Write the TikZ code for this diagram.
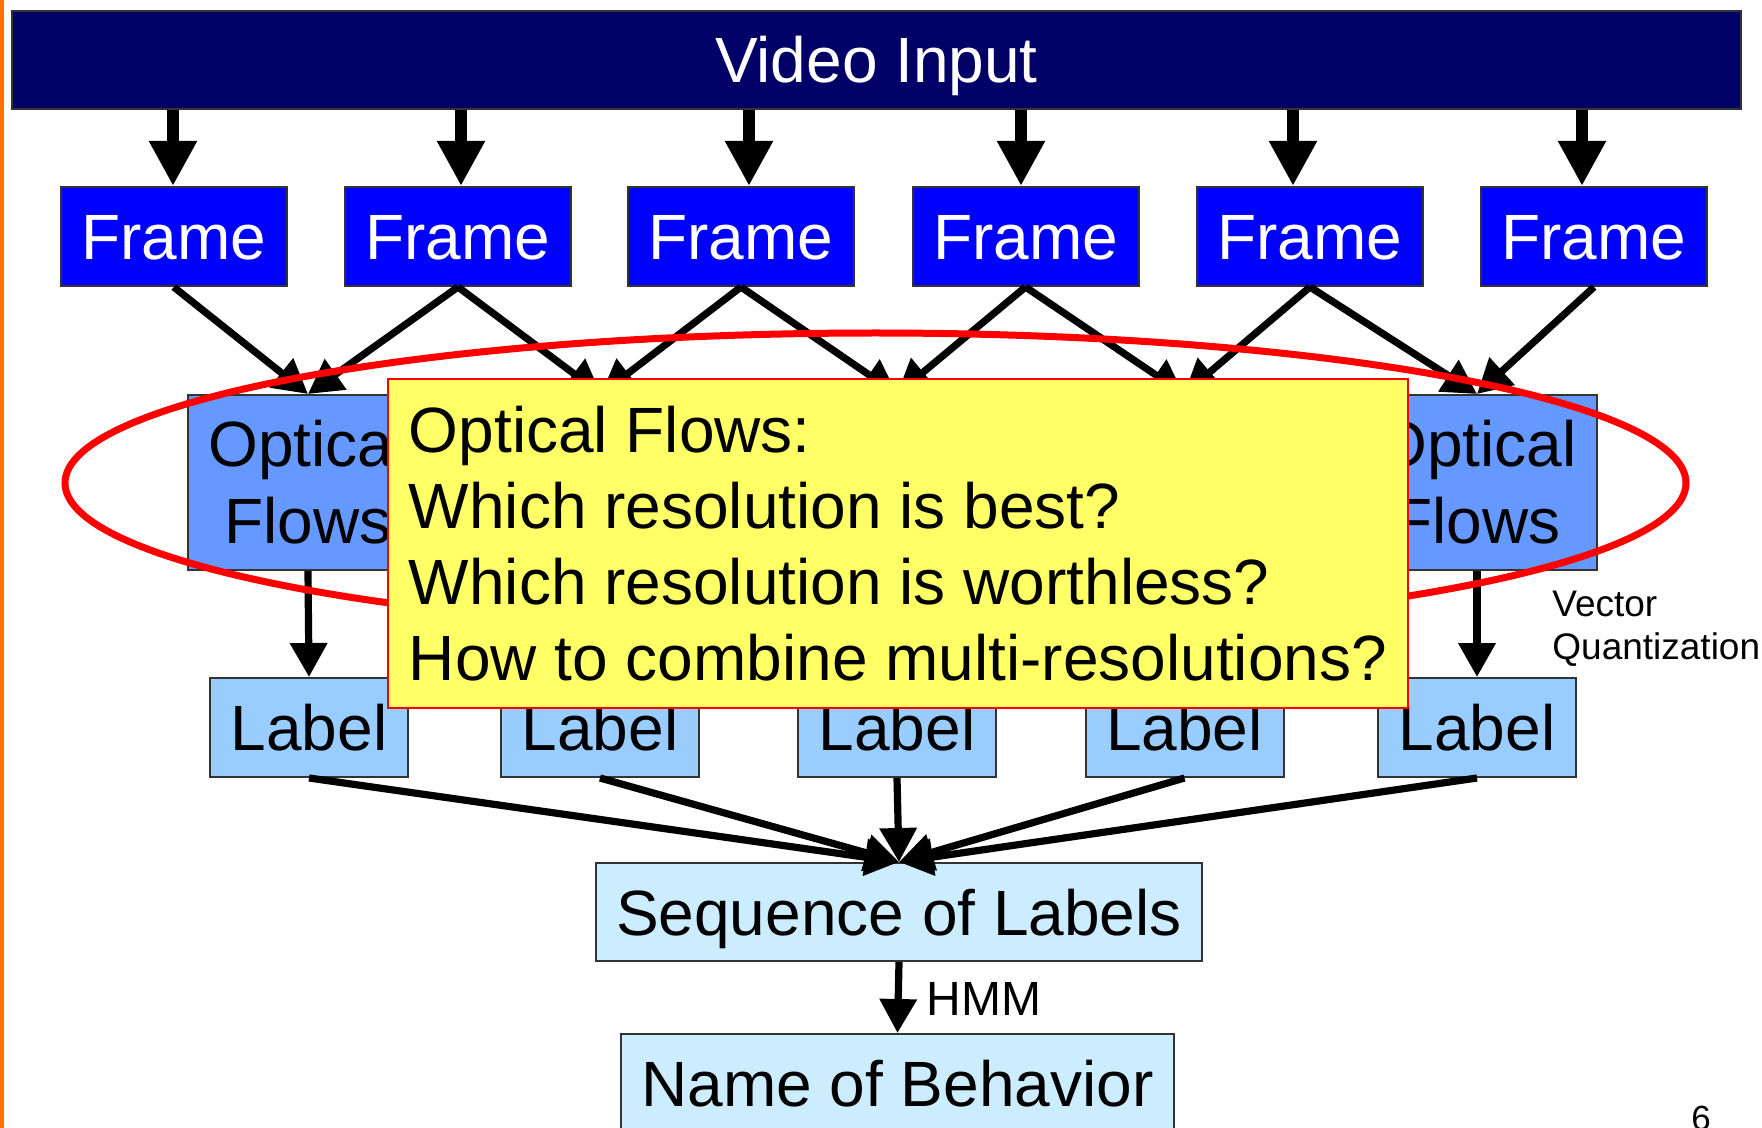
\documentclass[tikz,border=0pt]{standalone}
\usepackage{fontspec}
\setmainfont{Liberation Sans}
\usetikzlibrary{arrows.meta,calc}
\definecolor{navybar}{RGB}{0,0,102}
\definecolor{framebl}{RGB}{0,0,255}
\definecolor{optbl}{RGB}{102,153,255}
\definecolor{labbl}{RGB}{153,204,255}
\definecolor{seqbl}{RGB}{204,236,255}
\definecolor{noteyel}{RGB}{255,255,102}
\definecolor{edgeor}{RGB}{255,112,0}
\begin{document}
\begin{tikzpicture}[x=0.5pt,y=-0.5pt,
  box/.style={draw=black!80, line width=1pt, inner sep=0pt, text height=23pt, text depth=0pt,
    font=\fontsize{32}{38}\selectfont},
  framebox/.style={box, fill=framebl, text=white, minimum width=113pt, minimum height=49.5pt},
  optbox/.style={draw=black!80, line width=1pt, fill=optbl, inner sep=0pt, minimum width=120pt,
    minimum height=87.5pt, align=center, font=\fontsize{32}{38.5}\selectfont},
  labbox/.style={box, fill=labbl, minimum width=99pt, minimum height=49.5pt},
  bigarr/.style={line width=6pt, -{Triangle[length=22.5pt,width=22.5pt]}},
  arr/.style={line width=3.6pt, -{Triangle[length=17pt,width=18pt]}},
  smalltext/.style={inner sep=0pt, text=black}
]
\useasboundingbox (0,0) rectangle (1762,1128);
\fill[white] (0,0) rectangle (1762,1128);
\fill[edgeor] (0,0) rectangle (3.5,1128);

% Video input bar
\node[box, fill=navybar, text=white, minimum width=864.5pt, minimum height=49pt] (video) at (876.5,60) {Video Input};

% Frames
\foreach \i/\x in {1/173.7,2/458,3/741,4/1025.5,5/1310,6/1594}
  \node[framebox] (f\i) at (\x,236.5) {Frame};

% arrows video -> frames
\foreach \i/\s in {1/-0.35,2/1.5,3/4,4/-2.25,5/-8.5,6/-6} {
  \coordinate (in\i) at ([xshift=\s pt]f\i.north);
  \draw[bigarr] (video.south -| in\i) -- (in\i);
}

% Optical flows
\foreach \i/\x in {1/308,2/601,3/897,4/1184,5/1477}
  \node[optbox] (o\i) at (\x,482.5) {Optical\\Flows};

% Labels
\foreach \i/\x in {1/309,2/600,3/897,4/1184.5,5/1477}
  \node[labbox] (l\i) at (\x,727.5) {Label};

% Sequence and name
\node[box, fill=seqbl, minimum width=303pt, minimum height=49pt] (seq) at (899,912) {Sequence of Labels};
\node[box, fill=seqbl, minimum width=276.5pt, minimum height=49.5pt] (name) at (897.5,1083.5) {Name of Behavior};

% frame -> optical arrows
\foreach \i/\j in {1/2,2/3,3/4,4/5,5/6} {
  \draw[arr] (f\i.south) -- (o\i.north);
  \draw[arr] (f\j.south) -- (o\i.north);
}
% optical -> label
\foreach \i in {1,...,5}
  \draw[arr] (o\i.south) -- (l\i.north);
% label -> sequence
\foreach \i in {1,...,5}
  \draw[arr] (l\i.south) -- (seq.north);
% sequence -> name
\draw[arr] (seq.south) -- (name.north);

% side texts
\node[smalltext, anchor=base west, font=\fontsize{24}{28}\selectfont] (hmm) at (926,1015) {HMM};
\node[smalltext, anchor=north west, align=left, font=\fontsize{18.5}{21.5}\selectfont] (vq) at (1552,591) {Vector\\Quantization};
\node[smalltext, anchor=base west, font=\fontsize{17.5}{21}\selectfont] (pg) at (1691,1130) {6};

% red ellipse
\draw[red, line width=3.5pt] (875.5,483) ellipse [x radius=405.25pt, y radius=75pt];

% yellow note
\node[draw=red, line width=1pt, fill=noteyel, minimum width=510pt, minimum height=164.5pt,
  inner sep=0pt, align=left,
  font=\fontsize{32}{38}\selectfont] (note) at (898,543.5)
  {Optical Flows:\\Which resolution is best?\\Which resolution is worthless?\\How to combine multi-resolutions?};
\end{tikzpicture}
\end{document}
